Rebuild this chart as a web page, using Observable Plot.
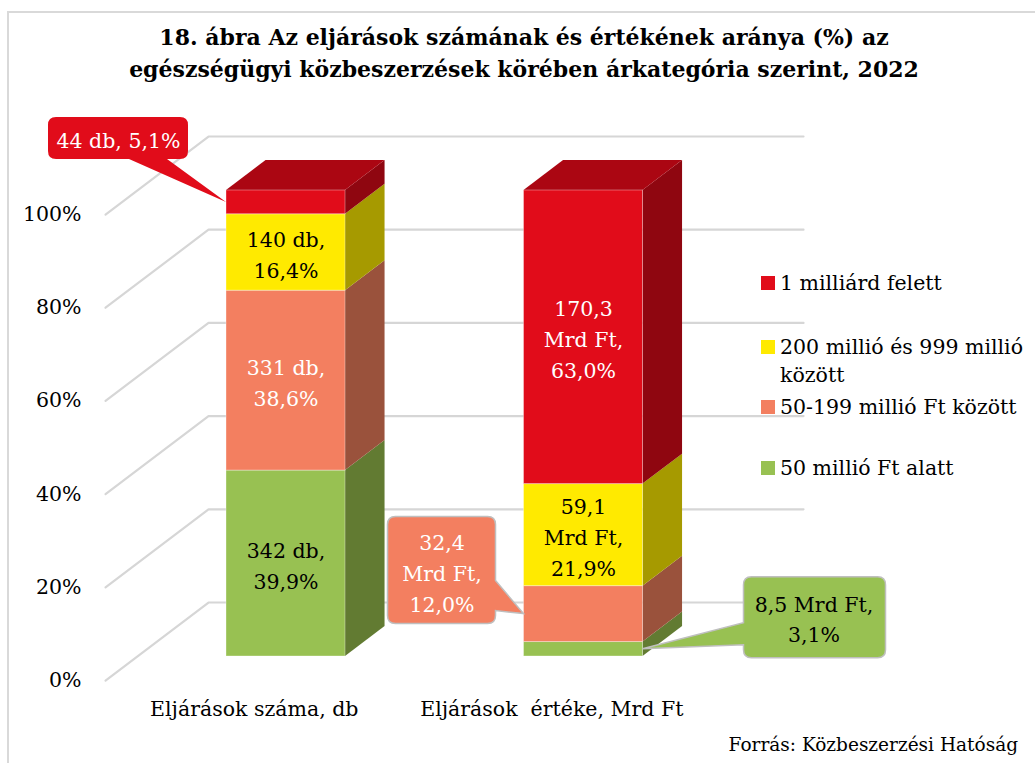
<!DOCTYPE html>
<html><head><meta charset="utf-8">
<script src="https://cdn.jsdelivr.net/npm/d3@7"></script>
<script src="https://cdn.jsdelivr.net/npm/@observablehq/plot@0.6"></script>
<style>
body{margin:0;background:#fff;}
#wrap{position:relative;width:1035px;height:763px;overflow:hidden;font-family:"DejaVu Serif",serif;color:#000;background:#fff;}
#frame{position:absolute;left:7px;top:11px;width:1100px;height:800px;border-left:2px solid #d9d9d9;border-top:2px solid #d9d9d9;}
#title{position:absolute;left:9px;width:1030px;top:21px;text-align:center;font-weight:bold;font-size:22px;line-height:32px;}
#chart{position:absolute;left:0;top:95px;}
#legend .item{position:absolute;left:761px;font-size:20.5px;line-height:28px;}
#legend .sw{position:absolute;left:0;top:7px;width:14px;height:14px;}
#legend .lb{position:absolute;left:19px;top:0;width:258px;}
#caption{position:absolute;right:17px;top:734px;font-size:18.5px;}
</style></head>
<body><div id="wrap">
<div id="frame"></div>
<div id="title">18. ábra Az eljárások számának és értékének aránya (%) az<br>egészségügyi közbeszerzések körében árkategória szerint, 2022</div>
<div id="chart"></div>
<div id="legend"></div>
<div id="caption">Forrás: Közbeszerzési Hatóság</div>
</div>
<script>
// ---- data ----
const categories = ["Eljárások száma, db", "Eljárások  értéke, Mrd Ft"];
const series = ["50 millió Ft alatt", "50-199 millió Ft között", "200 millió és 999 millió között", "1 milliárd felett"];
const countPct = [39.9, 38.6, 16.4, 5.1];
const countDb = [342, 331, 140, 44];
const valuePct = [3.1, 12.0, 21.9, 63.0];
const valueMrd = [8.5, 32.4, 59.1, 170.3];
const yTicks = [0, 20, 40, 60, 80, 100];
const tickLabels = ["0%", "20%", "40%", "60%", "80%", "100%"];

// ---- styles ----
const frontColors = ["#98c152", "#f37f60", "#ffea00", "#e10c1a"];
const sideColors = ["#627b32", "#9a523c", "#a69a00", "#8f0610"];
const topColor = "#ab0612";
const textColors = [["#000", "#fff", "#000", "#fff"], ["#000", "#fff", "#000", "#fff"]];
// callouts: [category, series] -> layout in px relative to anchor
const callouts = [
  {ci: 0, si: 3, side: "left", box: [-178, -38, -85, -43], tail: {edge: "bottom", a: -97, b: -59}, text: [-108, -64], fill: "#e10c1a", stroke: "none"},
  {ci: 1, si: 1, side: "left", box: [-136, -28, -97, 10], tail: {edge: "right", a: -33, b: -3}, text: [-82, -43], fill: "#f37f60", stroke: "#bfbfbf"},
  {ci: 1, si: 0, side: "right", box: [101, 243, -72, 9], tail: {edge: "left", a: -26, b: -4}, text: [171, -32], fill: "#98c152", stroke: "#bfbfbf"}
];

// ---- 3D projection in data units ----
const DX = 0.3462, DY = 16.74; // full floor depth in x units / %
const zf = 0.308, zb = 0.692;   // bar front and back depth
const barHalf = 0.2;
const proj = (x, y, z) => [x + (z - zf) * DX, y + (z - zf) * DY];
const fmt = v => v.toFixed(1).replace(".", ",");

const rows = [];
[countPct, valuePct].forEach((pcts, ci) => {
  let acc = 0;
  pcts.forEach((p, si) => {
    const y1 = acc, y2 = acc + p; acc = y2;
    let label;
    if (ci === 0) label = `${countDb[si]} db,\n${fmt(p)}%`;
    else label = `${fmt(valueMrd[si])}\nMrd Ft,\n${fmt(p)}%`;
    rows.push({ci, si, x1: ci + 0.5 - barHalf, x2: ci + 0.5 + barHalf, y1, y2, mid: (y1 + y2) / 2, label, id: ci + "-" + si});
  });
});
rows.forEach(r => {
  if (r.ci === 1 && r.si === 0) r.label = `${fmt(valueMrd[0])} Mrd Ft,\n${fmt(valuePct[0])}%`;
  if (r.ci === 0 && r.si === 3) r.label = `${countDb[3]} db, ${fmt(countPct[3])}%`;
});
const isCallout = r => callouts.some(c => c.ci === r.ci && c.si === r.si);

// side faces
const sidePts = [];
rows.forEach(r => {
  const a = proj(r.x2, r.y1, zf), b = proj(r.x2, r.y1, zb);
  const a2 = proj(r.x2, r.y2, zf), b2 = proj(r.x2, r.y2, zb);
  sidePts.push({id: r.id, x: a[0], y1: a[1], y2: a2[1], fill: sideColors[r.si]});
  sidePts.push({id: r.id, x: b[0], y1: b[1], y2: b2[1], fill: sideColors[r.si]});
});
// top faces
const topPts = [];
rows.filter(r => r.si === series.length - 1).forEach(r => {
  const top = r.y2;
  const p0 = proj(r.x1, top, zf), p1 = proj(r.x1, top, zb), p2 = proj(r.x2, top, zf), p3 = proj(r.x2, top, zb);
  topPts.push({id: r.id, x: p0[0], y1: p0[1], y2: p0[1]});
  topPts.push({id: r.id, x: p1[0], y1: p0[1], y2: p1[1]});
  topPts.push({id: r.id, x: p2[0], y1: p2[1], y2: p3[1]});
  topPts.push({id: r.id, x: p3[0], y1: p3[1], y2: p3[1]});
});
// gridlines
const gridPts = [];
yTicks.forEach(t => {
  [[0, 0], [0, 1], [2, 1]].forEach(([x, z]) => { const p = proj(x, t, z); gridPts.push({t, x: p[0], y: p[1]}); });
});
const yLabels = yTicks.map((t, i) => { const p = proj(0, t, 0); return {x: p[0], y: p[1], text: tickLabels[i]}; });
const xLabels = categories.map((c, ci) => { const p = proj(ci + 0.5, 0, 0); return {x: p[0], y: p[1], text: c}; });

// callout labels
const calloutRows = callouts.map(c => {
  const r = rows.find(r => r.ci === c.ci && r.si === c.si);
  return {...c, x: c.side === "left" ? r.x1 : r.x2, y: r.mid, label: r.label, color: textColors[c.ci][c.si]};
});

function calloutMark(index, scales) {
  const g = d3.create("svg:g");
  for (const c of calloutRows) {
    const tx = scales.x(c.x), ty = scales.y(c.y);
    const [x0, x1, y0, y1] = c.box; const r = 8; const t = c.tail;
    let d = `M${x0 + r},${y0}H${x1 - r}Q${x1},${y0} ${x1},${y0 + r}`;
    if (t.edge === "right") d += `V${t.a}L0,0L${x1},${t.b}`;
    d += `V${y1 - r}Q${x1},${y1} ${x1 - r},${y1}`;
    if (t.edge === "bottom") d += `H${t.b}L0,0L${t.a},${y1}`;
    d += `H${x0 + r}Q${x0},${y1} ${x0},${y1 - r}`;
    if (t.edge === "left") d += `V${t.b}L0,0L${x0},${t.a}`;
    d += `V${y0 + r}Q${x0},${y0} ${x0 + r},${y0}Z`;
    g.append("path").attr("transform", `translate(${tx},${ty})`).attr("d", d)
      .attr("fill", c.fill).attr("stroke", c.stroke).attr("stroke-width", 1.5);
  }
  return g.node();
}

const fs = 20.5;
const chart = Plot.plot({
  width: 1035, height: 668,
  marginLeft: 0, marginRight: 0, marginTop: 0, marginBottom: 0,
  x: {domain: [0, 2], range: [136.75, 731.75], axis: null},
  y: {domain: [0, 100], range: [561, 95], axis: null},
  color: {type: "identity"},
  style: {fontFamily: "DejaVu Serif", fontSize: fs + "px", background: "transparent", overflow: "visible"},
  marks: [
    Plot.line(gridPts, {x: "x", y: "y", z: "t", stroke: "#d6d6d6", strokeWidth: 2.2, curve: "linear"}),
    Plot.text(yLabels, {x: "x", y: "y", text: "text", textAnchor: "end", dx: -24, fontSize: fs, fill: "#000"}),
    Plot.text(xLabels, {x: "x", y: "y", text: "text", dy: 29, fontSize: fs, fill: "#000"}),
    Plot.area(sidePts, {x1: "x", y1: "y1", y2: "y2", z: "id", fill: "fill", curve: "linear"}),
    Plot.area(topPts, {x1: "x", y1: "y1", y2: "y2", z: "id", fill: topColor, curve: "linear"}),
    Plot.rect(rows, {x1: "x1", x2: "x2", y1: "y1", y2: "y2", fill: d => frontColors[d.si], stroke: "#ffffff", strokeOpacity: 0.35, strokeWidth: 1}),
    Plot.text(rows.filter(r => !isCallout(r)), {x: d => d.ci + 0.5, y: "mid", text: "label", fill: d => textColors[d.ci][d.si], fontSize: fs, lineHeight: 1.5, lineAnchor: "middle"}),
    calloutMark,
    ...calloutRows.map(c => Plot.text([c], {x: "x", y: "y", text: "label", fill: "color", fontSize: fs, lineHeight: 1.5, lineAnchor: "middle", dx: c.text[0], dy: c.text[1]}))
  ]
});
document.getElementById("chart").appendChild(chart);

// legend (top to bottom: highest category first)
const legendTops = [269, 333, 393, 454];
const leg = document.getElementById("legend");
series.slice().reverse().forEach((s, i) => {
  const si = series.length - 1 - i;
  const it = document.createElement("div");
  it.className = "item"; it.style.top = legendTops[i] + "px";
  it.innerHTML = `<div class="sw" style="background:${frontColors[si]}"></div><div class="lb"></div>`;
  it.querySelector(".lb").textContent = s;
  leg.appendChild(it);
});
</script>
</body></html>
